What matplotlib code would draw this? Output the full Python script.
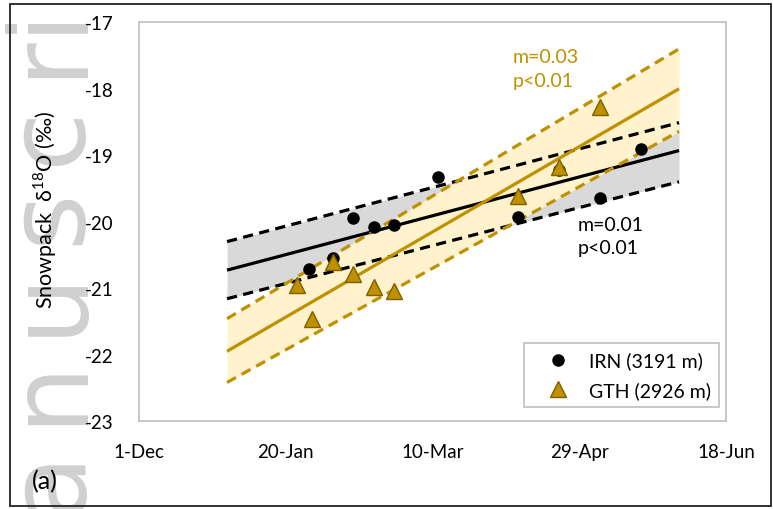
import numpy as np
import pandas as pd
import matplotlib
matplotlib.use('Agg')
import matplotlib.pyplot as plt
import matplotlib.dates as mdates
from matplotlib.patches import Rectangle

plt.rcParams['font.family'] = ['Lato', 'DejaVu Sans']
plt.rcParams['mathtext.fontset'] = 'custom'
plt.rcParams['mathtext.rm'] = 'Lato'
plt.rcParams['axes.unicode_minus'] = False

# IRN site (3191 m)
irn_dates = ['2020-01-28', '2020-02-05', '2020-02-12', '2020-02-19', '2020-02-26',
             '2020-03-12', '2020-04-08', '2020-04-22', '2020-05-06', '2020-05-20']
irn_d18o = [-20.72, -20.54, -19.95, -20.08, -20.05, -19.33, -19.93, -19.22, -19.65, -18.90]

# GTH site (2926 m)
gth_dates = ['2020-01-24', '2020-01-29', '2020-02-05', '2020-02-12', '2020-02-19',
             '2020-02-26', '2020-04-08', '2020-04-22', '2020-05-06']
gth_d18o = [-20.96, -21.46, -20.61, -20.79, -20.98, -21.04, -19.62, -19.18, -18.28]

# regression lines and confidence bands (start / end)
fit_dates = ['2019-12-31', '2020-06-02']
irn_fit = [-20.73, -18.93]
irn_upper = [-20.30, -18.51]
irn_lower = [-21.16, -19.40]
gth_fit = [-21.95, -18.00]
gth_upper = [-21.46, -17.40]
gth_lower = [-22.42, -18.64]

x_tick_dates = ['2019-12-01', '2020-01-20', '2020-03-10', '2020-04-29', '2020-06-18']
x_tick_labels = ['1-Dec', '20-Jan', '10-Mar', '29-Apr', '18-Jun']
y_ticks = [-23, -22, -21, -20, -19, -18, -17]

gold = '#BF9000'
gold_edge = '#7F6000'
grey_fill = '#D9D9D9'
gold_fill = '#FFF2CC'

def todates(lst):
    return mdates.date2num(pd.to_datetime(lst).to_pydatetime())

fig = plt.figure(figsize=(7.73, 5.1), dpi=100)

# watermark letters (rotated, cut by the page edge)
for ch, yp in zip('anuscri', [482, 391, 302, 217, 135, 56, 18]):
    fig.text(79 / 773, 1 - yp / 510, ch, rotation=90, rotation_mode='anchor',
             ha='center', va='baseline', fontsize=78, color='#D0D0D0',
             family='DejaVu Sans', zorder=-5)

ax = fig.add_axes([139 / 773, 1 - 422 / 510, 587 / 773, 398.7 / 510])
ax.patch.set_alpha(0)

xf = todates(fit_dates)
ax.fill_between(xf, irn_lower, irn_upper, color=grey_fill, lw=0, zorder=1)
ax.fill_between(xf, gth_lower, gth_upper, color=gold_fill, lw=0, zorder=2)

dash = (0, (3.2, 2.0))
ax.plot(xf, irn_fit, color='black', lw=2.3, zorder=3, solid_capstyle='butt')
ax.plot(xf, irn_upper, color='black', lw=2.3, ls=dash, zorder=3)
ax.plot(xf, irn_lower, color='black', lw=2.3, ls=dash, zorder=3)
ax.plot(xf, gth_fit, color=gold, lw=2.3, zorder=3, solid_capstyle='butt')
ax.plot(xf, gth_upper, color=gold, lw=2.3, ls=dash, zorder=3)
ax.plot(xf, gth_lower, color=gold, lw=2.3, ls=dash, zorder=3)

ax.plot(todates(irn_dates), irn_d18o, 'o', color='black', ms=8,
        label='IRN (3191 m)', zorder=4)
ax.plot(todates(gth_dates), gth_d18o, '^', mfc=gold, mec=gold_edge, mew=1.0,
        ms=11, label='GTH (2926 m)', zorder=5)

ax.set_xlim(todates(['2019-12-01', '2020-06-18']))
ax.set_ylim(-23, -17)
ax.set_xticks(todates(x_tick_dates))
ax.set_xticklabels(x_tick_labels)
ax.set_yticks(y_ticks)
ax.set_yticklabels([str(v) for v in y_ticks])
ax.tick_params(axis='both', length=0, labelsize=13.5)
ax.tick_params(axis='y', pad=18)
ax.tick_params(axis='x', pad=16)
for s in ax.spines.values():
    s.set_color('#BFBFBF')
    s.set_linewidth(1.2)

ax.text(0.637, 0.935, 'm=0.03\np<0.01', transform=ax.transAxes, color=gold,
        fontsize=14, va='top', ha='left', linespacing=1.45)
ax.text(0.748, 0.515, 'm=0.01\np<0.01', transform=ax.transAxes, color='black',
        fontsize=14, va='top', ha='left', linespacing=1.45)

leg = ax.legend(loc='lower right', bbox_to_anchor=(0.988, 0.035), borderaxespad=0,
                fontsize=14, fancybox=False, edgecolor='#BFBFBF', framealpha=1,
                handletextpad=0.3, borderpad=0.42, labelspacing=0.6, handlelength=2.6)
leg.get_frame().set_linewidth(1.2)

fig.text(45 / 773, 1 - 210 / 510, 'Snowpack  δ$^{18}$O (‰)', rotation=90,
         ha='center', va='center', fontsize=15.5)
fig.text(45 / 773, 1 - 482 / 510, '(a)', ha='center', va='center', fontsize=18)

fig.patches.append(Rectangle((10 / 773, 1 - 507 / 510), 761 / 773, 502 / 510,
                             transform=fig.transFigure, fill=False,
                             edgecolor='#222222', lw=1.3))

fig.savefig('out.png', dpi=100)
